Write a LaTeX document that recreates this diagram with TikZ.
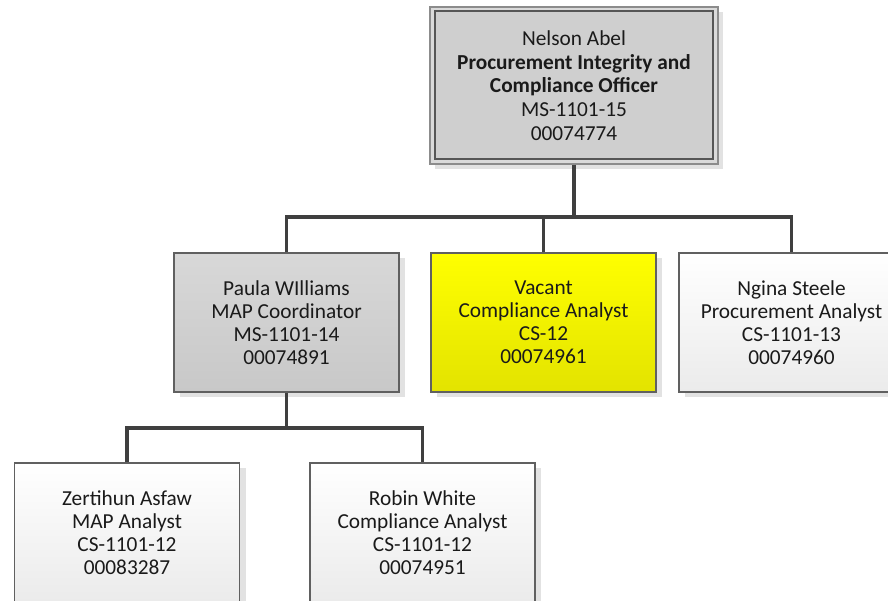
\documentclass[tikz,border=0pt]{standalone}
\usepackage{fontspec}
\setmainfont{Carlito}
\usetikzlibrary{shadows}
\definecolor{connclr}{HTML}{3F3F3F}
\definecolor{edgeclr}{HTML}{606060}
\definecolor{shadeclr}{HTML}{E2E2E2}
\definecolor{graytop}{HTML}{D8D8D8}
\definecolor{graybot}{HTML}{C8C8C8}
\definecolor{whitebot}{HTML}{EBEBEB}
\definecolor{yellowtop}{HTML}{FFFF00}
\definecolor{yellowbot}{HTML}{E3E300}
\definecolor{txtclr}{HTML}{1A1A1A}
\tikzset{
  x=0.75pt, y=-0.75pt,
  posbox/.style={rectangle, draw=edgeclr, line width=1.1pt,
    minimum width=168.75pt, minimum height=104.25pt,
    align=center, text=txtclr, inner sep=0pt,
    font=\fontsize{16}{17.3}\selectfont,
    general shadow={fill=shadeclr, shadow xshift=4.5pt, shadow yshift=-4pt}},
  graybox/.style={posbox, top color=graytop, bottom color=graybot},
  whitebox/.style={posbox, top color=white, bottom color=whitebot},
  yellowbox/.style={posbox, top color=yellowtop, bottom color=yellowbot},
  headbox/.style={rectangle, draw=gray!90, line width=1.1pt, fill=graytop!95!white,
    minimum width=216pt, minimum height=117.75pt,
    align=center, text=txtclr, inner sep=0pt,
    general shadow={fill=shadeclr, shadow xshift=4pt, shadow yshift=-3.5pt}},
  headtext/.style={align=center, text=txtclr, font=\fontsize{16}{17.7}\selectfont},
  conn/.style={draw=connclr, line width=2.3pt, line join=miter}
}
\begin{document}
\begin{tikzpicture}
\useasboundingbox (0,0) rectangle (888,600);
\clip (0,0) rectangle (888,600);
\fill[white] (0,0) rectangle (888,600);

% head of the unit, with a double frame
\node[headbox] (top) at (574,85.5) {};
\draw[draw=edgeclr!90!black, line width=1.4pt, fill=graybot!55!graytop]
  ([xshift=4.3pt,yshift=-3.8pt]top.north west) rectangle ([xshift=-4pt,yshift=4.3pt]top.south east);
\node[headtext] (toptext) at (top.center)
  {Nelson Abel\\\textbf{Procurement Integrity and}\\\textbf{Compliance Officer}\\MS-1101-15\\00074774};

% second level
\node[graybox] (paula) at (286.5,322.5) {Paula WIlliams\\MAP Coordinator\\MS-1101-14\\00074891};
\node[yellowbox] (vacant) at (543.5,322.5) {Vacant\\Compliance Analyst\\CS-12\\00074961};
\node[whitebox] (ngina) at (791.5,322.5) {Ngina Steele\\Procurement Analyst\\CS-1101-13\\00074960};

% third level
\node[whitebox] (zert) at (127,532.5) {Zertihun Asfaw\\MAP Analyst\\CS-1101-12\\00083287};
\node[whitebox] (robin) at (422.5,532.5) {Robin White\\Compliance Analyst\\CS-1101-12\\00074951};

% reporting lines
\coordinate (busA) at (574,217);
\coordinate (busB) at (286.5,428);
\draw[conn] (top.south) -- (busA);
\draw[conn] (paula.north) |- (busA) -| (ngina.north);
\draw[conn] (vacant.north) -- (vacant.north |- busA);
\draw[conn] (paula.south) -- (busB);
\draw[conn] (zert.north) |- (busB) -| (robin.north);
\end{tikzpicture}
\end{document}
